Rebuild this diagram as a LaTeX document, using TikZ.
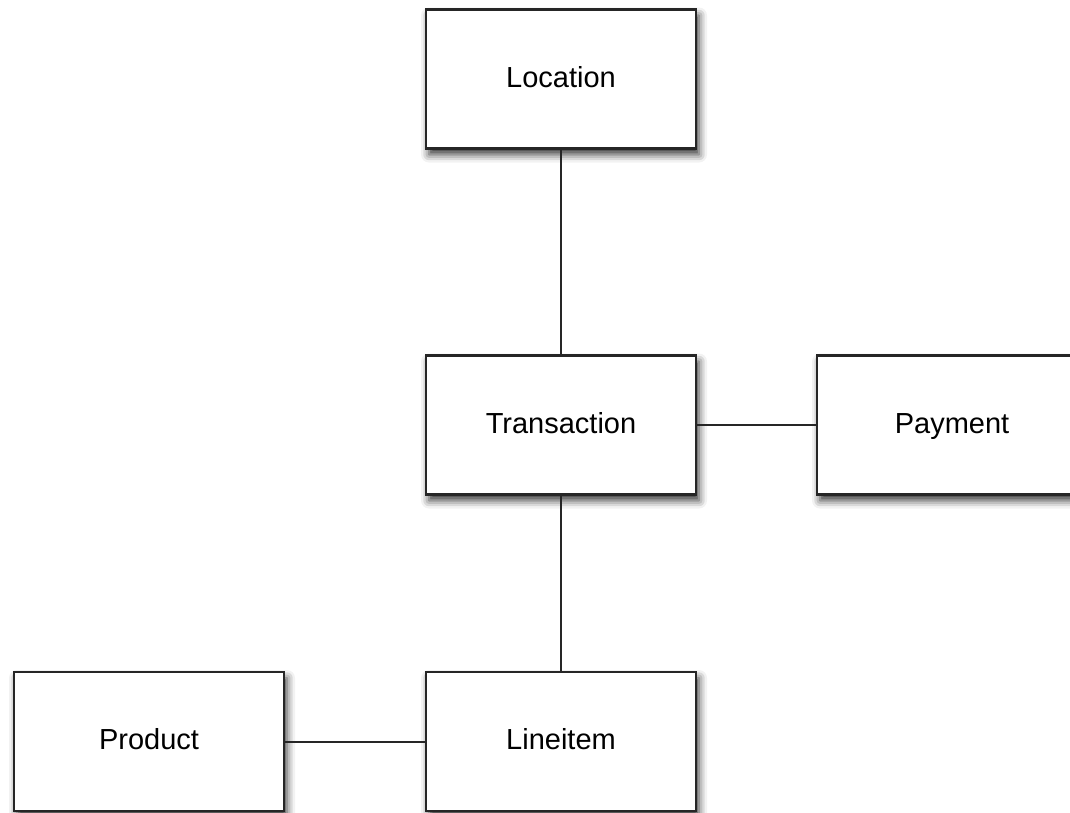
\documentclass[tikz,border=0pt]{standalone}
\usepackage{fontspec}
\setmainfont{Liberation Sans}
\usetikzlibrary{shadows.blur}
\begin{document}
\begin{tikzpicture}[x=1pt,y=-1pt,
  entity/.style={draw=black!85, line width=2.2pt, fill=white, minimum width=270pt, minimum height=139pt,
    inner sep=0pt, text height=21pt, text depth=5pt, font=\fontsize{29}{34}\selectfont,
    blur shadow={shadow xshift=3pt, shadow yshift=-6pt, shadow blur radius=8pt, shadow opacity=80}},
  link/.style={draw=black!85, line width=2pt}]
\useasboundingbox (0,0) rectangle (1070,812);
\clip (0,0) rectangle (1070,812);
\node[entity] (loc) at (561,79) {Location};
\node[entity] (tra) at (561,425) {Transaction};
\node[entity] (pay) at (952,425) {Payment};
\node[entity] (lin) at (561,741.5) {Lineitem};
\node[entity] (pro) at (149,741.5) {Product};
\draw[link] (loc) -- (tra);
\draw[link] (tra) -- (pay);
\draw[link] (tra) -- (lin);
\draw[link] (pro) -- (lin);
\end{tikzpicture}
\end{document}
